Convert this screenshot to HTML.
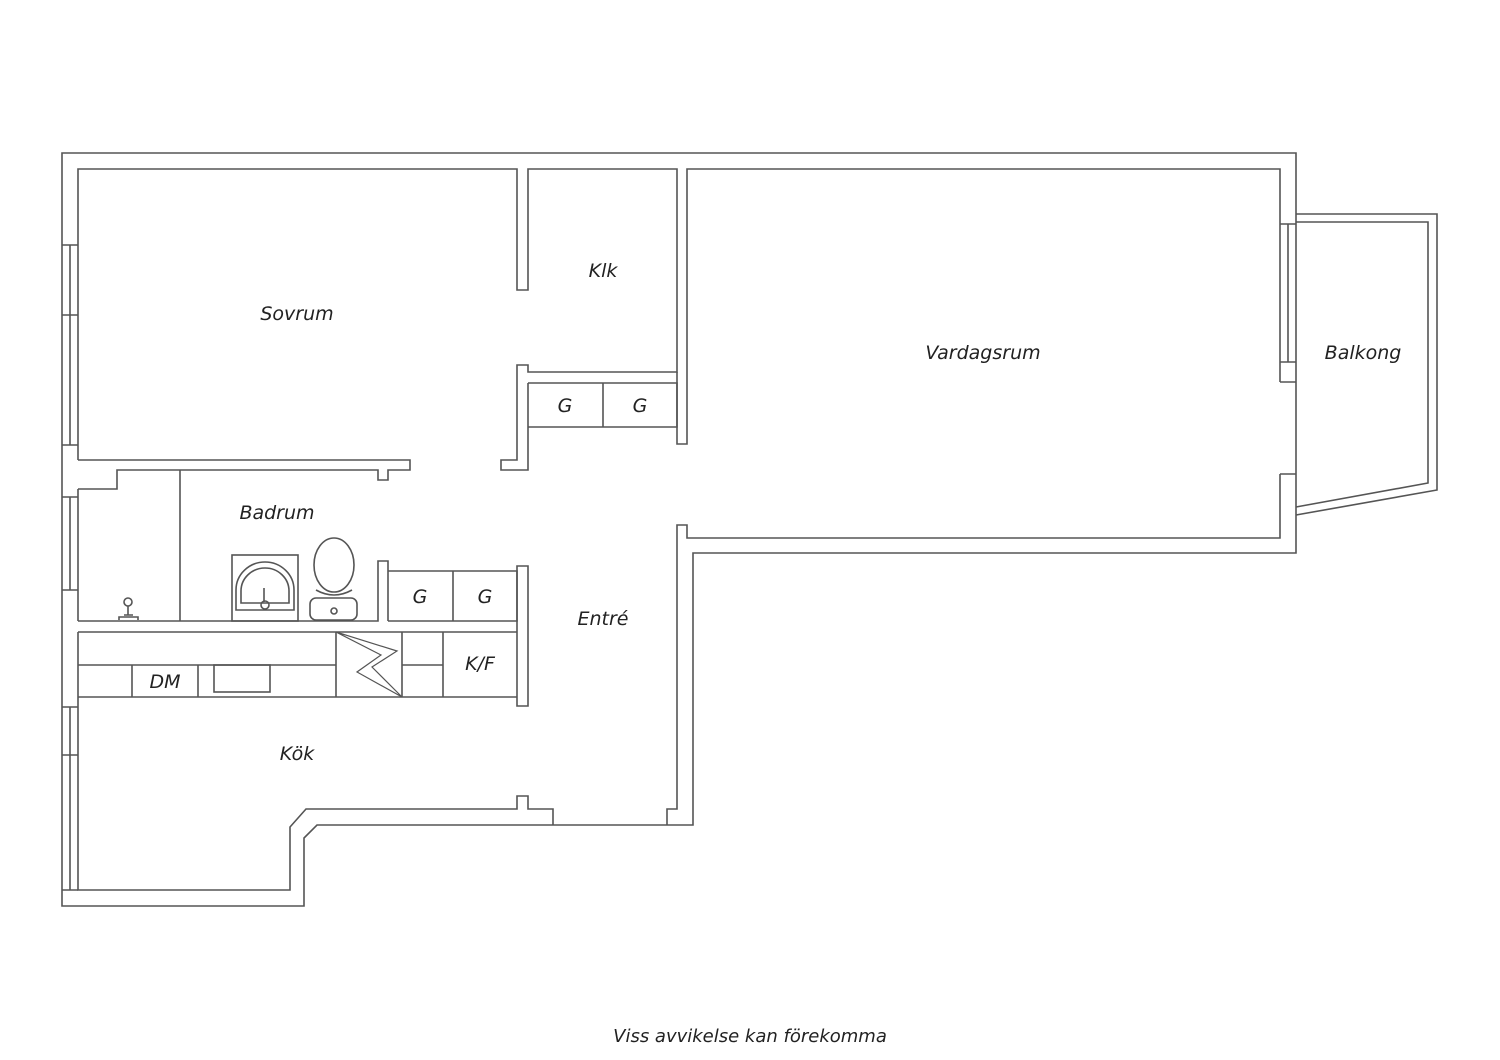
<!DOCTYPE html>
<html><head><meta charset="utf-8"><style>
html,body{margin:0;padding:0;background:#fff;}
svg{display:block;}
text{font-family:"DejaVu Sans","Liberation Sans",sans-serif;font-style:italic;fill:#222;font-size:19px;text-anchor:middle;}
</style></head><body>
<svg width="1500" height="1060" viewBox="0 0 1500 1060" xmlns="http://www.w3.org/2000/svg">
<g fill="none" stroke="#555" stroke-width="1.6">
<!-- outer boundary -->
<path d="M62,153 H1296 V553 H693 V825 H317 L304,838 V906 H62 Z"/>
<!-- left windows -->
<path d="M70,245 V445 M62,245 H78 M62,315 H78 M62,445 H78"/>
<path d="M70,497 V590 M62,497 H78 M62,590 H78"/>
<path d="M70,707 V890 M62,707 H78 M62,755 H78 M62,890 H78"/>
<!-- Sovrum -->
<path d="M78,460 V169 H517 V290 H528 V169 H677 V372 H528 V365 H517 V460 H501 V470 H528 V383"/>
<path d="M78,460 H410 V470 H388 V480 H378 V470 H117 V489 H78"/>
<!-- Klk G cabinets -->
<path d="M528,383 H677 V427 H528 M603,383 V427"/>
<path d="M677,372 V444 H687 V169 H1280 V362 H1296 M1280,224 H1296 M1288,224 V362 M1280,382 H1296 M1280,362 V382 M1280,474 H1296 M1280,474 V538 H687 V525 H677 V809 H667 V825"/>
<!-- Balcony -->
<path d="M1296,214 H1437 V490 L1296,515 M1296,222 H1428 V483 L1296,507"/>
<!-- Bathroom -->
<path d="M78,489 V621 M180,470 V621 M78,621 H378 V561 H388 V621 M388,571 H517 V621 H388 M453,571 V621"/>
<path d="M517,566 H528 V706 H517 Z"/>
<!-- sink -->
<rect x="232" y="555" width="66" height="66"/>
<path d="M236,610 V590 A29,28 0 0 1 294,590 V610 Z"/>
<path d="M241,603 V591 A24,23 0 0 1 289,591 V603 Z"/>
<path d="M264,588 V602"/>
<circle cx="265" cy="605" r="4"/>
<!-- toilet -->
<ellipse cx="334" cy="565" rx="20" ry="27"/>
<path d="M316,590 Q334,600 352,590"/>
<rect x="310" y="598" width="47" height="22" rx="6"/>
<circle cx="334" cy="611" r="3"/>
<!-- lamp -->
<circle cx="128" cy="602" r="4"/>
<path d="M128,606 V615 M124,615 H133 M119,620 V617 H138 V620"/>
<!-- kitchen counter -->
<path d="M78,632 H517 M78,697 H517 M78,632 V697 M78,665 H336 M132,665 V697 M198,665 V697 M336,632 V697 M402,632 V697 M443,632 V697 M402,665 H443"/>
<rect x="214" y="665" width="56" height="27"/>
<path d="M336,632 L381,655 L357,672 L402,697 L372,667 L397,651 Z" stroke-width="1.2"/>
<!-- kitchen -->
<path d="M78,697 V890 H290 V827 L306,809 H517 V796 H528 V809 H553 V825"/>
</g>
<text x="297" y="320">Sovrum</text>
<text x="603" y="277">Klk</text>
<text x="983" y="359">Vardagsrum</text>
<text x="1363" y="359">Balkong</text>
<text x="565" y="412">G</text>
<text x="640" y="412">G</text>
<text x="277" y="519">Badrum</text>
<text x="420" y="603">G</text>
<text x="485" y="603">G</text>
<text x="603" y="625">Entré</text>
<text x="480" y="670">K/F</text>
<text x="165" y="688">DM</text>
<text x="297" y="760">Kök</text>
<text x="750" y="1042" style="font-size:18px">Viss avvikelse kan förekomma</text>
</svg>
</body></html>
